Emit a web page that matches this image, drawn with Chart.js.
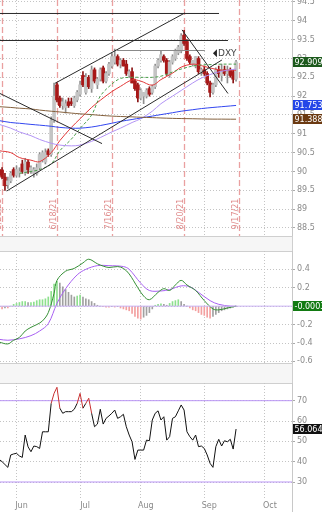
<!DOCTYPE html>
<html>
<head>
<meta charset="utf-8">
<script src="https://cdn.jsdelivr.net/npm/chart.js@4.4.1/dist/chart.umd.min.js"></script>
<style>
  html, body { margin: 0; padding: 0; background: #fff; }
  body { width: 322px; height: 512px; position: relative; overflow: hidden; font-family: "DejaVu Sans", sans-serif; }
  .pane { position: absolute; left: 0; width: 322px; }
  .strip { position: absolute; left: 0; width: 293px; background: #f6f6f6; border-top: 1px solid #cfcfcf; border-bottom: 1px solid #cfcfcf; border-right: 1px solid #cfcfcf; box-sizing: border-box; }
</style>
</head>
<body>
<div class="pane" style="top:0;height:237px"><canvas id="priceChart"></canvas></div>
<div class="strip" style="top:236px;height:16px"></div>
<div class="pane" style="top:251px;height:113px"><canvas id="macdChart"></canvas></div>
<div class="strip" style="top:363px;height:21px"></div>
<div class="pane" style="top:383px;height:129px"><canvas id="rsiChart"></canvas></div>
<script>
// trading days, US holidays skipped; runs past the last candle so Oct fits
const dates = [
  '2021-05-20','2021-05-21','2021-05-24','2021-05-25','2021-05-26','2021-05-27','2021-05-28',
  '2021-06-01','2021-06-02','2021-06-03','2021-06-04','2021-06-07','2021-06-08','2021-06-09','2021-06-10','2021-06-11',
  '2021-06-14','2021-06-15','2021-06-16','2021-06-17','2021-06-18','2021-06-21','2021-06-22','2021-06-23','2021-06-24','2021-06-25',
  '2021-06-28','2021-06-29','2021-06-30','2021-07-01','2021-07-02','2021-07-06','2021-07-07','2021-07-08','2021-07-09',
  '2021-07-12','2021-07-13','2021-07-14','2021-07-15','2021-07-16','2021-07-19','2021-07-20','2021-07-21','2021-07-22','2021-07-23',
  '2021-07-26','2021-07-27','2021-07-28','2021-07-29','2021-07-30','2021-08-02','2021-08-03','2021-08-04','2021-08-05','2021-08-06',
  '2021-08-09','2021-08-10','2021-08-11','2021-08-12','2021-08-13','2021-08-16','2021-08-17','2021-08-18','2021-08-19','2021-08-20',
  '2021-08-23','2021-08-24','2021-08-25','2021-08-26','2021-08-27','2021-08-30','2021-08-31','2021-09-01','2021-09-02','2021-09-03',
  '2021-09-07','2021-09-08','2021-09-09','2021-09-10','2021-09-13','2021-09-14','2021-09-15','2021-09-16','2021-09-17',
  '2021-09-20','2021-09-21','2021-09-22','2021-09-23','2021-09-24','2021-09-27','2021-09-28','2021-09-29','2021-09-30',
  '2021-10-01','2021-10-04','2021-10-05','2021-10-06','2021-10-07','2021-10-08','2021-10-11','2021-10-12','2021-10-13','2021-10-14'
];

const open  = [90.05,90.04,89.85,89.65,89.75,90.05,89.90, 89.95,90.20,89.95,90.25,90.00,89.95,89.95,90.10,90.30,
  90.25,90.55,90.45,91.35,92.30,91.95,91.75,91.70,91.85,91.85, 91.75,91.90,92.05,92.55,92.10,92.50,92.20,92.70,92.30,
  92.45,92.75,92.40,92.60,92.80,92.90,93.05,92.85,92.95,92.85, 92.55,92.65,92.40,92.30,91.95,92.00,92.00,92.20,92.10,92.25,
  92.80,92.95,93.05,92.95,92.55,92.90,93.00,93.15,93.20,93.62, 93.45,93.05,92.85,92.80,93.00,92.65,92.70,92.60,92.35,92.10,
  92.30,92.70,92.55,92.70,92.60,92.70,92.65,92.45];
const high  = [90.20,90.10,89.95,89.85,90.00,90.10,90.15, 90.10,90.30,90.35,90.30,90.15,90.10,90.20,90.50,90.55,
  90.60,90.60,91.45,92.35,92.35,92.00,91.95,91.90,91.95,91.95, 92.00,92.15,92.40,92.65,92.60,92.55,92.80,92.75,92.50,
  92.75,92.80,92.65,92.90,93.15,93.25,93.10,93.00,93.00,92.95, 92.70,92.75,92.45,92.35,92.20,92.10,92.20,92.25,92.30,92.85,
  93.00,93.20,93.10,93.00,92.95,93.10,93.25,93.35,93.66,93.75, 93.50,93.10,92.95,93.05,93.05,92.75,92.80,92.65,92.40,92.35,
  92.75,92.80,92.85,92.80,92.80,92.75,92.70,92.95];
const low   = [89.85,89.80,89.50,89.55,89.70,89.85,89.85, 89.85,89.95,89.90,89.95,89.95,89.85,89.90,90.05,90.25,
  90.20,90.40,90.40,91.30,91.85,91.70,91.65,91.55,91.70,91.75, 91.70,91.85,92.00,92.25,92.05,92.20,92.10,92.35,92.20,
  92.40,92.35,92.35,92.55,92.75,92.85,92.80,92.75,92.80,92.55, 92.50,92.35,92.15,91.85,91.90,91.80,91.95,92.00,92.05,92.20,
  92.75,92.90,92.90,92.55,92.50,92.85,92.95,93.10,93.15,93.35, 92.95,92.85,92.80,92.75,92.60,92.55,92.55,92.30,91.98,92.05,
  92.25,92.50,92.40,92.55,92.35,92.50,92.35,92.40];
const close = [89.90,89.85,89.62,89.75,89.95,89.90,90.05, 90.00,90.00,90.25,90.05,90.10,90.05,90.10,90.45,90.50,
  90.50,90.45,91.35,92.00,91.90,91.75,91.85,91.80,91.75,91.80, 91.95,92.10,92.30,92.30,92.50,92.25,92.70,92.40,92.45,
  92.70,92.40,92.60,92.85,93.05,93.05,92.85,92.95,92.80,92.60, 92.65,92.35,92.20,91.95,92.15,92.10,92.15,92.05,92.25,92.80,
  92.95,93.10,92.95,92.60,92.90,93.05,93.20,93.30,93.60,93.40, 93.00,92.90,92.95,93.05,92.65,92.70,92.60,92.35,92.10,92.30,
  92.70,92.60,92.65,92.60,92.65,92.55,92.45,92.909];

// moving averages, read every few days (index into dates)
const maIdx  = [0, 4, 7, 11, 14, 18, 21, 25, 28, 32, 35, 39, 42, 46, 49, 53, 56, 60, 63, 67, 70, 74, 77, 80, 82];
const fastMA = [90.55,90.50,90.37,90.30,90.26,90.50,90.82,91.17,91.40,91.70,91.89,92.12,92.26,92.43,92.40,92.29,92.44,92.61,92.77,92.85,92.81,92.73,92.69,92.69,92.69];
const midMA  = [null,null,89.95,90.00,90.05,90.20,90.55,90.86,91.14,91.50,92.00,92.32,92.47,92.50,92.50,92.50,92.53,92.64,92.72,92.80,92.83,92.84,92.85,92.85,92.85];
const ma50   = [91.25,91.15,91.05,90.95,90.85,90.75,90.70,90.68,90.70,90.80,90.90,91.05,91.15,91.30,91.40,91.60,91.80,92.00,92.15,92.35,92.48,92.60,92.66,92.70,92.72];
const ma100  = [91.35,91.30,91.28,91.25,91.23,91.20,91.17,91.15,91.15,91.18,91.22,91.28,91.33,91.38,91.42,91.47,91.51,91.56,91.60,91.64,91.67,91.70,91.72,91.74,91.753];
const ma200  = [91.72,91.70,91.68,91.66,91.63,91.60,91.58,91.55,91.53,91.51,91.49,91.47,91.46,91.45,91.44,91.43,91.42,91.41,91.405,91.40,91.395,91.39,91.39,91.388,91.388];

// drawn trend lines: [fromIdx, fromPrice, toIdx, toPrice]
const trendLines = [
  [0.28, 94.195, 76.1, 94.195],
  [0.28, 93.478, 79.2, 93.478],
  [19.3, 92.34, 64.3, 94.21],
  [2.6, 89.48, 77.1, 92.96],
  [63.3, 93.76, 79.2, 92.07],
  [0.28, 92.07, 35.6, 90.74]
];
const resistance = [40.8, 93.212, 71.2, 93.212];
const expiryIdx = [1, 20, 39, 64, 83];
const expiryText = ['5/21/21', '6/18/21', '7/16/21', '8/20/21', '9/17/21'];
const priceTicks = [88.5, 89, 89.5, 90, 90.5, 91, 91.5, 92, 92.5, 93, 93.5, 94, 94.5];

// MACD(12,26,9)
const macdIdx  = [0, 3, 5, 7, 9, 11, 13, 15, 17, 19, 20, 23, 26, 29, 31, 34, 36, 38, 41, 43, 45, 48, 50, 52, 55, 57, 59, 61, 63, 65, 68, 71, 74, 76, 79, 82];
const macdLine = [-0.39,-0.41,-0.37,-0.34,-0.27,-0.23,-0.20,-0.16,-0.07,0.14,0.28,0.38,0.41,0.47,0.51,0.46,0.435,0.42,0.43,0.41,0.35,0.20,0.11,0.07,0.15,0.19,0.17,0.23,0.28,0.23,0.17,0.06,-0.03,-0.04,-0.02,-0.0003];
const sigIdx   = [0, 3, 7, 11, 14, 17, 20, 23, 27, 30, 34, 38, 43, 45, 49, 52, 56, 59, 63, 66, 69, 73, 76, 80, 82];
const signalLine = [-0.36,-0.37,-0.355,-0.32,-0.27,-0.19,0.03,0.19,0.34,0.40,0.44,0.44,0.43,0.40,0.25,0.17,0.165,0.18,0.22,0.21,0.15,0.06,0.02,0.0,-0.0003];
const macdHist = [-0.03,-0.03,-0.02,-0.02,0.00,0.02,0.03,0.04,0.05,0.05,0.04,0.04,0.045,0.06,0.07,0.07,
  0.08,0.10,0.16,0.24,0.27,0.25,0.21,0.18,0.15,0.12, 0.10,0.11,0.12,0.10,0.08,0.07,0.05,0.03,0.01,
  0.00,-0.005,-0.01,-0.01,-0.005,-0.01,-0.005,-0.02,-0.03,-0.04, -0.05,-0.08,-0.11,-0.13,-0.14,-0.12,-0.10,-0.07,-0.03,0.01,
  0.02,0.025,0.02,0.01,0.03,0.05,0.06,0.07,0.05,0.02, 0.00,-0.02,-0.04,-0.05,-0.07,-0.09,-0.10,-0.12,-0.13,-0.11,
  -0.09,-0.07,-0.05,-0.04,-0.03,-0.02,-0.01,-0.0003];
const macdTicks = [-0.6, -0.4, -0.2, 0, 0.2, 0.4];

// RSI(14)
const rsi = [41.1,40.0,38.6,37.2,43.3,43.8,44.1, 42.8,42.1,53.1,47.3,44.9,47.7,47.4,46.5,54.7,
  54.7,54.7,68.7,73.6,76.6,66.3,63.8,64.6,64.6,64.6, 65.8,68.7,73.6,66.3,68.7,71.2,63.8,57.2,58.5,
  65.8,58.5,61.3,62.5,63.8,65.4,61.3,62.1,63.3,57.2, 53.1,49.8,41.1,45.7,45.7,45.7,50.6,50.3,60.5,63.8,
  65.0,60.5,62.1,50.6,52.3,61.3,62.1,65.0,67.9,65.4, 54.7,52.3,50.6,53.1,47.4,47.7,46.5,43.3,39.2,37.2,
  47.4,51.0,47.7,50.3,49.8,51.0,46.2,56.064];
const rsiTicks = [30, 40, 50, 60, 70];

const monthNames = ['Jan','Feb','Mar','Apr','May','Jun','Jul','Aug','Sep','Oct','Nov','Dec'];
const monthStarts = [];
dates.forEach((d, i) => {
  if (i > 0 && d.slice(5, 7) !== dates[i - 1].slice(5, 7)) monthStarts.push(i);
});

const X_MIN = 0.284, X_MAX = 101.36;
const GRID = '#c4c4c4';
const AXIS_W = 30;

function xScale(showLabels) {
  return {
    type: 'linear', min: X_MIN, max: X_MAX, offset: false,
    afterBuildTicks: s => { s.ticks = monthStarts.map(v => ({ value: v - 1 })); },
    ticks: {
      display: showLabels, autoSkip: false, maxRotation: 0, color: '#888', padding: 3,
      font: { size: 8, family: 'DejaVu Sans' }, labelOffset: 5,
      callback: v => monthNames[+dates[v + 1].slice(5, 7) - 1]
    },
    grid: { color: GRID, drawTicks: false, lineWidth: 1, offset: false },
    border: { display: false, dash: [1, 2] },
    afterFit: s => {
      s.height = showLabels ? 14 : 0;
      s.paddingLeft = 0; s.paddingRight = 0;
    }
  };
}
function yScale(min, max, ticks, fmt) {
  return {
    position: 'right', min: min, max: max,
    afterBuildTicks: s => { s.ticks = ticks.map(v => ({ value: v })); },
    afterFit: s => { s.width = AXIS_W; s.paddingTop = 0; s.paddingBottom = 0; },
    ticks: { color: '#8a8a8a', font: { size: 8, family: 'DejaVu Sans' }, padding: 2, callback: fmt },
    grid: { color: GRID, tickColor: '#aaa', tickLength: 3 },
    border: { display: false, dash: [1, 2] }
  };
}
const frame = { id: 'frame', afterDraw(chart) {
  const c = chart.ctx, a = chart.chartArea;
  c.save();
  c.strokeStyle = '#c8c8c8';
  c.lineWidth = 1;
  c.beginPath();
  c.moveTo(Math.round(a.right) + 0.5, 0);
  c.lineTo(Math.round(a.right) + 0.5, chart.height);
  c.stroke();
  c.restore();
} };

function series(idx, vals) { return idx.map((i, k) => ({ x: i, y: vals[k] })); }
function lineSet(data, color, width, extra) {
  return Object.assign({ type: 'line', data: data, borderColor: color, borderWidth: width, pointRadius: 0, tension: 0.35, fill: false, order: 1 }, extra || {});
}

// candle bodies and wicks are floating bars
const bodies = open.map((o, i) => ({ x: i, y: [o, close[i]] }));
const wicks = open.map((o, i) => ({ x: i, y: [low[i], high[i]] }));
const candleColor = ctx => (close[ctx.dataIndex] >= open[ctx.dataIndex] ? '#c4c4c4' : '#a81818');
const wickColor = ctx => (close[ctx.dataIndex] >= open[ctx.dataIndex] ? '#8f8f8f' : '#8a1414');

const trendSets = trendLines.map(t => lineSet([{ x: t[0], y: t[1] }, { x: t[2], y: t[3] }], '#2a2a2a', 1, { tension: 0, order: 0 }));
trendSets.push(lineSet([{ x: resistance[0], y: resistance[1] }, { x: resistance[2], y: resistance[3] }], '#8a8a8a', 1, { tension: 0, order: 0 }));

function valueBoxes(list) {
  return { id: 'boxes', afterDraw(chart) {
    const c = chart.ctx, y = chart.scales.y, left = Math.round(chart.chartArea.right) + 1;
    c.save();
    c.font = '8px "DejaVu Sans"';
    c.textBaseline = 'middle';
    list.forEach(b => {
      const py = Math.round(y.getPixelForValue(b.value));
      c.fillStyle = b.bg;
      c.fillRect(left, py - 5, 29, 10);
      c.fillStyle = '#fff';
      c.fillText(b.text, left + 1.5, py + 0.5);
    });
    c.restore();
  } };
}
const expiries = { id: 'expiries', beforeDatasetsDraw(chart) {
  const c = chart.ctx, xs = chart.scales.x, a = chart.chartArea;
  c.save();
  c.strokeStyle = '#eaa0a0';
  c.lineWidth = 1.3;
  c.setLineDash([6, 3]);
  expiryIdx.forEach((i, k) => {
    const px = Math.round(xs.getPixelForValue(i)) + 0.5;
    c.beginPath(); c.moveTo(px, a.top); c.lineTo(px, a.bottom); c.stroke();
    c.save();
    c.translate(px - 4, a.bottom - 23);
    c.rotate(-Math.PI / 2);
    c.fillStyle = '#e08c8c';
    c.font = '8px "DejaVu Sans"';
    c.textAlign = 'center';
    c.textBaseline = 'middle';
    c.fillText(expiryText[k], 0, 0);
    c.restore();
  });
  c.restore();
} };
const dxyTag = { id: 'dxyTag', afterDatasetsDraw(chart) {
  const c = chart.ctx, xs = chart.scales.x, ys = chart.scales.y;
  const px = xs.getPixelForValue(74.0), py = ys.getPixelForValue(93.14);
  c.save();
  c.fillStyle = '#222';
  c.beginPath(); c.moveTo(px, py); c.lineTo(px + 4, py - 4); c.lineTo(px + 4, py + 4); c.closePath(); c.fill();
  c.font = '9px "DejaVu Sans"';
  c.fillStyle = '#444';
  c.textBaseline = 'middle';
  c.fillText('DXY', px + 5, py);
  c.restore();
} };

const base = {
  responsive: true, maintainAspectRatio: false, animation: false,
  layout: { padding: 0, autoPadding: false },
  plugins: { legend: { display: false }, tooltip: { enabled: false } }
};

new Chart(document.getElementById('priceChart'), {
  type: 'bar',
  data: { datasets: [
    ...trendSets,
    lineSet(series(maIdx, ma200), '#84603c', 1),
    lineSet(series(maIdx, ma100), '#3246f0', 1),
    lineSet(series(maIdx, ma50), '#b293f5', 1),
    lineSet(series(maIdx, midMA), '#4a9e4a', 1, { borderDash: [3, 2], spanGaps: false }),
    lineSet(series(maIdx, fastMA), '#e23838', 1),
    { type: 'bar', data: wicks, backgroundColor: wickColor, barThickness: 1, grouped: false, order: 5 },
    { type: 'bar', data: bodies, backgroundColor: candleColor, borderWidth: 0, barThickness: 3, grouped: false, order: 4, minBarLength: 1 }
  ] },
  options: Object.assign({}, base, { scales: {
    x: xScale(false),
    y: yScale(88.26, 94.553, priceTicks, v => v)
  } }),
  plugins: [expiries, dxyTag, frame, valueBoxes([
    { value: close[close.length - 1], text: '92.909', bg: '#1d5a1d' },
    { value: ma100[ma100.length - 1], text: '91.753', bg: '#2446e8' },
    { value: ma200[ma200.length - 1], text: '91.388', bg: '#6b3a12' }
  ])]
});

const histColor = ctx => {
  const i = ctx.dataIndex, v = macdHist[i], p = i > 0 ? macdHist[i - 1] : v;
  if (v >= 0) return v >= p ? '#8ee08e' : '#a0a0a0';
  return v <= p ? '#f3a0a0' : '#a0a0a0';
};
new Chart(document.getElementById('macdChart'), {
  type: 'bar',
  data: { datasets: [
    lineSet([{ x: X_MIN, y: 0 }, { x: X_MAX, y: 0 }], '#c8b0f2', 1, { tension: 0 }),
    lineSet(series(macdIdx, macdLine), '#358f35', 1),
    lineSet(series(sigIdx, signalLine), '#a860f2', 1),
    { type: 'bar', data: macdHist.map((v, i) => ({ x: i, y: v })), backgroundColor: histColor, barThickness: 1, order: 5 }
  ] },
  options: Object.assign({}, base, { scales: {
    x: xScale(false),
    y: yScale(-0.628, 0.599, macdTicks, v => (v === 0 ? '' : v))
  } }),
  plugins: [frame, valueBoxes([{ value: macdHist[macdHist.length - 1], text: '-0.0003', bg: '#127a12' }])]
});

new Chart(document.getElementById('rsiChart'), {
  type: 'line',
  data: { datasets: [
    lineSet([{ x: X_MIN, y: 70 }, { x: X_MAX, y: 70 }], '#b995f5', 1, { tension: 0 }),
    lineSet([{ x: X_MIN, y: 30 }, { x: X_MAX, y: 30 }], '#b995f5', 1, { tension: 0 }),
    lineSet(rsi.map((v, i) => ({ x: i, y: v })), '#111', 1, { tension: 0, order: 0,
      segment: { borderColor: s => (s.p0.parsed.y > 70 || s.p1.parsed.y > 70 ? '#c83030' : undefined) } })
  ] },
  options: Object.assign({}, base, { scales: {
    x: xScale(true),
    y: yScale(22.13, 78.7, rsiTicks, v => v)
  } }),
  plugins: [frame, valueBoxes([{ value: rsi[rsi.length - 1], text: '56.064', bg: '#111' }])]
});
</script>
</body>
</html>
